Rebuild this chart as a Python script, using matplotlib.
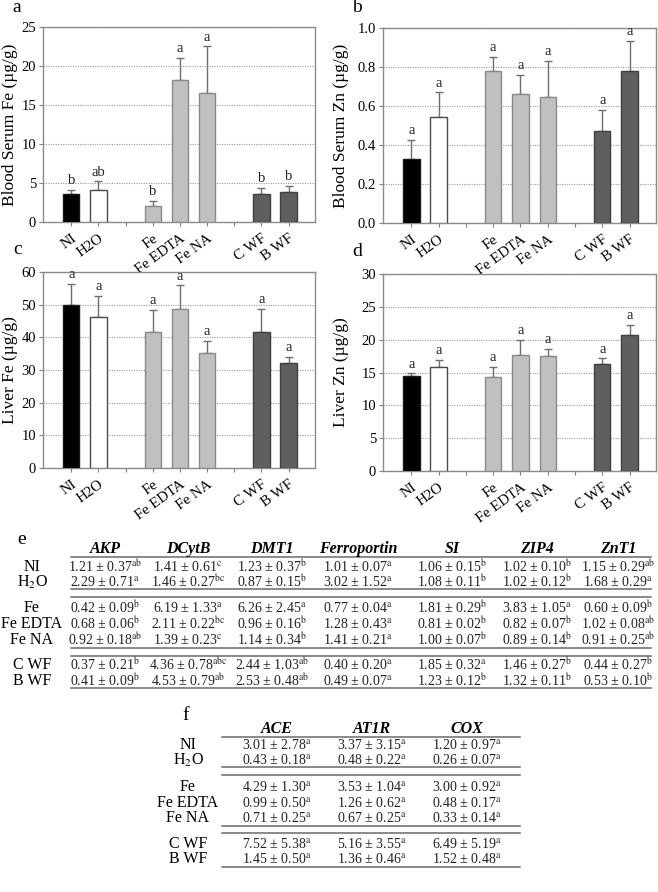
import matplotlib
matplotlib.use("Agg")
import matplotlib.pyplot as plt
from matplotlib.lines import Line2D
import numpy as np

plt.rcParams['font.family'] = ['Liberation Serif', 'DejaVu Serif']
plt.rcParams['mathtext.fontset'] = 'stix'

W, H = 658, 892

# ---------------- data ----------------
groups = ["NI", "H2O", "Fe", "Fe EDTA", "Fe NA", "C WF", "B WF"]
group_sizes = [2, 3, 2]          # control / iron / wheat flour groups

serum_fe = [3.55, 4.1, 2.05, 18.15, 16.6, 3.55, 3.9]
serum_fe_err = [0.55, 1.1, 0.65, 2.85, 5.9, 0.85, 0.7]
serum_fe_sig = ["b", "ab", "b", "a", "a", "b", "b"]

serum_zn = [0.327, 0.545, 0.778, 0.659, 0.644, 0.472, 0.777]
serum_zn_err = [0.099, 0.125, 0.074, 0.101, 0.189, 0.107, 0.158]
serum_zn_sig = ["a", "a", "a", "a", "a", "a", "a"]

liver_fe = [50.0, 46.2, 41.5, 48.8, 35.2, 41.5, 32.2]
liver_fe_err = [6.3, 6.4, 6.8, 7.1, 3.8, 7.2, 1.8]
liver_fe_sig = ["a", "a", "a", "a", "a", "a", "a"]

liver_zn = [14.45, 15.9, 14.3, 17.7, 17.45, 16.3, 20.75]
liver_zn_err = [0.4, 1.0, 1.5, 2.3, 1.15, 0.85, 1.45]
liver_zn_sig = ["a", "a", "a", "a", "a", "a", "a"]

bar_colors = ["#000000", "#ffffff", "#c0c0c0", "#c0c0c0", "#c0c0c0", "#5f5f5f", "#5f5f5f"]
edge_colors = ["#1a1a1a", "#4a4a4a", "#8a8a8a", "#8a8a8a", "#8a8a8a", "#404040", "#404040"]

# table e
row_labels = ["NI", "H$_2$O", "Fe", "Fe EDTA", "Fe NA", "C WF", "B WF"]
e_genes = ["AKP", "DCytB", "DMT1", "Ferroportin", "SI", "ZIP4", "ZnT1"]
akp = ["1.21 ± 0.37", "2.29 ± 0.71", "0.42 ± 0.09", "0.68 ± 0.06", "0.92 ± 0.18", "0.37 ± 0.21", "0.41 ± 0.09"]
akp_sig = ["ab", "a", "b", "b", "ab", "b", "b"]
dcytb = ["1.41 ± 0.61", "1.46 ± 0.27", "6.19 ± 1.33", "2.11 ± 0.22", "1.39 ± 0.23", "4.36 ± 0.78", "4.53 ± 0.79"]
dcytb_sig = ["c", "bc", "a", "bc", "c", "abc", "ab"]
dmt1 = ["1.23 ± 0.37", "0.87 ± 0.15", "6.26 ± 2.45", "0.96 ± 0.16", "1.14 ± 0.34", "2.44 ± 1.03", "2.53 ± 0.48"]
dmt1_sig = ["b", "b", "a", "b", "b", "ab", "ab"]
ferroportin = ["1.01 ± 0.07", "3.02 ± 1.52", "0.77 ± 0.04", "1.28 ± 0.43", "1.41 ± 0.21", "0.40 ± 0.20", "0.49 ± 0.07"]
ferroportin_sig = ["a", "a", "a", "a", "a", "a", "a"]
si = ["1.06 ± 0.15", "1.08 ± 0.11", "1.81 ± 0.29", "0.81 ± 0.02", "1.00 ± 0.07", "1.85 ± 0.32", "1.23 ± 0.12"]
si_sig = ["b", "b", "b", "b", "b", "a", "b"]
zip4 = ["1.02 ± 0.10", "1.02 ± 0.12", "3.83 ± 1.05", "0.82 ± 0.07", "0.89 ± 0.14", "1.46 ± 0.27", "1.32 ± 0.11"]
zip4_sig = ["b", "b", "a", "b", "b", "b", "b"]
znt1 = ["1.15 ± 0.29", "1.68 ± 0.29", "0.60 ± 0.09", "1.02 ± 0.08", "0.91 ± 0.25", "0.44 ± 0.27", "0.53 ± 0.10"]
znt1_sig = ["ab", "a", "b", "ab", "ab", "b", "b"]

# table f
f_genes = ["ACE", "AT1R", "COX"]
ace = ["3.01 ± 2.78", "0.43 ± 0.18", "4.29 ± 1.30", "0.99 ± 0.50", "0.71 ± 0.25", "7.52 ± 5.38", "1.45 ± 0.50"]
ace_sig = ["a"] * 7
at1r = ["3.37 ± 3.15", "0.48 ± 0.22", "3.53 ± 1.04", "1.26 ± 0.62", "0.67 ± 0.25", "5.16 ± 3.55", "1.36 ± 0.46"]
at1r_sig = ["a"] * 7
cox = ["1.20 ± 0.97", "0.26 ± 0.07", "3.00 ± 0.92", "0.48 ± 0.17", "0.33 ± 0.14", "6.49 ± 5.19", "1.52 ± 0.48"]
cox_sig = ["a"] * 7

# ---------------- figure ----------------
fig = plt.figure(figsize=(W / 100, H / 100), dpi=100)

def fx(x):
    return x / W

def fy(y):
    return 1 - y / H

def axes_px(l, t, r, b):
    return fig.add_axes([fx(l), fy(b), (r - l) / W, (b - t) / H])

# bar positions with gaps between groups
pos = []
slot = 0
for gs in group_sizes:
    for _ in range(gs):
        pos.append(slot)
        slot += 1
    slot += 1
pos = np.array(pos)
all_slots = np.arange(pos.max() + 1)

def bar_panel(ax, vals, errs, sigs, ymax, step, ylabel, label_x):
    ax.bar(pos, vals, width=0.6, color=bar_colors, edgecolor=edge_colors,
           linewidth=1.0, zorder=3)
    ax.errorbar(pos, vals, yerr=[np.zeros(len(vals)), errs], fmt="none",
                ecolor="#6e6e6e", elinewidth=1.0, capsize=2.6, capthick=1.0, zorder=2)
    for p, v, e, s in zip(pos, vals, errs, sigs):
        ax.text(p, v + e + ymax * 0.014, s, ha="center", va="bottom",
                fontsize=10.5, color="#222222", zorder=4)
    ax.set_ylim(0, ymax)
    ax.set_xlim(-1.04, pos.max() + 0.97)
    yt = np.arange(0, ymax + step / 2, step)
    ax.set_yticks(yt)
    if step < 1:
        ax.set_yticklabels([f"{t:.1f}" for t in yt])
    ax.yaxis.grid(True, linestyle=(0, (1, 1.2)), color="#9a9a9a", linewidth=0.8, zorder=0)
    ax.set_axisbelow(True)
    ax.set_xticks(all_slots)
    lab = [""] * len(all_slots)
    for p, g in zip(pos, groups):
        lab[p] = g
    ax.set_xticklabels(lab, rotation=36, ha="right", va="top",
                       rotation_mode="anchor", fontsize=10.8)
    ax.tick_params(axis="x", length=3, color="#808080", pad=4)
    ax.tick_params(axis="y", length=3, color="#808080", labelsize=10.5, pad=2)
    for sp in ax.spines.values():
        sp.set_color("#8a8a8a")
        sp.set_linewidth(1.0)
    ax.set_ylabel(ylabel, fontsize=12.5)
    ax.yaxis.set_label_coords(label_x, 0.5)

ax_a = axes_px(43, 27, 315, 222)
bar_panel(ax_a, serum_fe, serum_fe_err, serum_fe_sig, 25, 5, "Blood Serum Fe (µg/g)", -0.092)
ax_b = axes_px(383, 28, 656, 223)
bar_panel(ax_b, serum_zn, serum_zn_err, serum_zn_sig, 1.0, 0.2, "Blood Serum Zn (µg/g)", -0.124)
ax_c = axes_px(43, 272, 315, 468)
bar_panel(ax_c, liver_fe, liver_fe_err, liver_fe_sig, 60, 10, "Liver Fe (µg/g)", -0.092)
ax_d = axes_px(383, 274, 656, 471)
bar_panel(ax_d, liver_zn, liver_zn_err, liver_zn_sig, 30, 5, "Liver Zn (µg/g)", -0.124)

def ftext(x, y, s, **kw):
    fig.text(fx(x), fy(y), s, **kw)

for lbl, x, y in [("a", 17, 8), ("b", 357, 8), ("c", 18, 250), ("d", 357, 251),
                  ("e", 22, 539), ("f", 186, 716)]:
    ftext(x, y, lbl, fontsize=14, ha="center", va="center")

def hline(x0, x1, y, lw=1.1):
    fig.add_artist(Line2D([fx(x0), fx(x1)], [fy(y), fy(y)], transform=fig.transFigure,
                          color="#6a6a6a", linewidth=lw))

def draw_table(genes, cols, sigs, col_x, label_x, header_y, header_line, row_y,
               group_lines, x0, x1):
    for g, cx in zip(genes, col_x):
        ftext(cx, header_y, g, fontsize=11.5, fontweight="bold", fontstyle="italic",
              ha="center", va="center")
    hline(x0, x1, header_line)
    for lbl, ry in zip(row_labels, row_y):
        ftext(label_x, ry, lbl, fontsize=11.5, ha="center", va="center")
    for col, sg, cx in zip(cols, sigs, col_x):
        for v, s, ry in zip(col, sg, row_y):
            ftext(cx, ry, v + r"$^{\mathrm{" + s + "}}$", fontsize=10,
                  ha="center", va="center", color="#222222")
    for ly in group_lines:
        hline(x0, x1, ly)

row_y_e = [567, 582, 608, 624, 640, 665, 681]
draw_table(e_genes, [akp, dcytb, dmt1, ferroportin, si, zip4, znt1],
           [akp_sig, dcytb_sig, dmt1_sig, ferroportin_sig, si_sig, zip4_sig, znt1_sig],
           [105, 188, 272, 358, 452, 537, 618], 32, 549, 557, row_y_e,
           [589, 597, 648, 656, 688], 71, 651)

row_y_f = [745, 760, 787, 803, 818, 844, 859]
draw_table(f_genes, [ace, at1r, cox], [ace_sig, at1r_sig, cox_sig],
           [277, 372, 467], 188, 729, 737, row_y_f,
           [767, 775, 826, 833, 867], 222, 520)

fig.savefig("out.png", dpi=100)
